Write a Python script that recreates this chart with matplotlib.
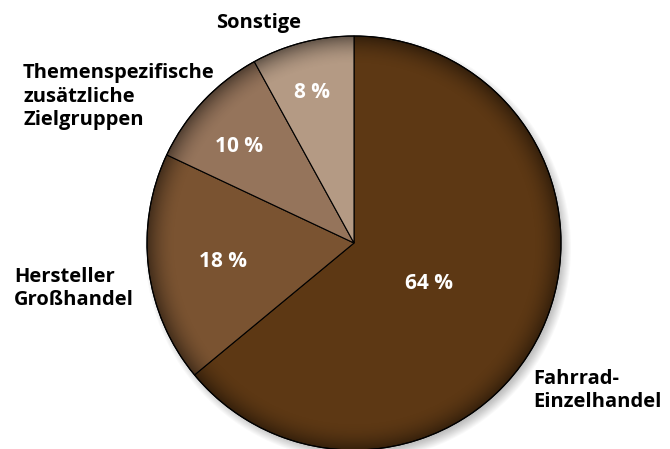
import numpy as np
import matplotlib.pyplot as plt
from matplotlib.patches import Circle

# ========================
# Data
# ========================
labels = ["Fahrrad-\nEinzelhandel", "Hersteller\nGroßhandel",
          "Themenspezifische\nzusätzliche\nZielgruppen", "Sonstige"]
shares = [64, 18, 10, 8]
colors = ["#5d3814", "#7a5331", "#95745b", "#b49a84"]

# label placement (pixels, origin bottom-left, last-line baseline)
pct_pos = [(429, 160), (223, 182), (239, 297), (312, 351)]
label_pos = [(533, 42), (14, 144), (23, 324), (259, 421)]
label_ha = ["left", "left", "left", "center"]

W, H = 670, 449
cx, cy, r = 354, 206, 207

fig = plt.figure(figsize=(W / 100, H / 100), dpi=100)
ax = fig.add_axes([0, 0, 1, 1])

# soft drop shadow
for i in range(12):
    ax.add_patch(Circle((cx + 4, cy - 5), r + 6 - i, color="black",
                        alpha=0.025, lw=0, zorder=1))

wedges, _ = ax.pie(shares, colors=colors, startangle=90, counterclock=False,
                   center=(cx, cy), radius=r, frame=True,
                   wedgeprops=dict(edgecolor="black", linewidth=0.8))
for w in wedges:
    w.set_zorder(2)
ax.set_xlim(0, W)
ax.set_ylim(0, H)
ax.set_aspect("equal")
ax.axis("off")

# inner rim darkening
yy, xx = np.mgrid[0:H, 0:W]
d = np.hypot(xx - cx, (H - yy) - cy) / r
alpha = np.clip((d - 0.86) / 0.14, 0, 1) ** 2 * 0.45
rgba = np.zeros((H, W, 4))
rgba[..., 3] = alpha
im = ax.imshow(rgba, extent=(0, W, 0, H), zorder=3, interpolation="bilinear")
im.set_clip_path(Circle((cx, cy), r, transform=ax.transData))
ax.add_patch(Circle((cx, cy), r, fill=False, edgecolor="black", lw=0.8, zorder=4))
ax.set_xlim(0, W)
ax.set_ylim(0, H)

font = "Open Sans"
for (x, y), s in zip(pct_pos, shares):
    ax.text(x, y, f"{s} %", color="white", fontsize=15, fontweight="bold",
            family=font, ha="center", va="baseline", zorder=5)

for (x, y), lab, ha in zip(label_pos, labels, label_ha):
    ax.text(x, y, lab, color="black", fontsize=14.5, fontweight="bold",
            family=font, ha=ha, va="baseline", linespacing=1.22, zorder=5)

fig.savefig("out.png", dpi=100)
